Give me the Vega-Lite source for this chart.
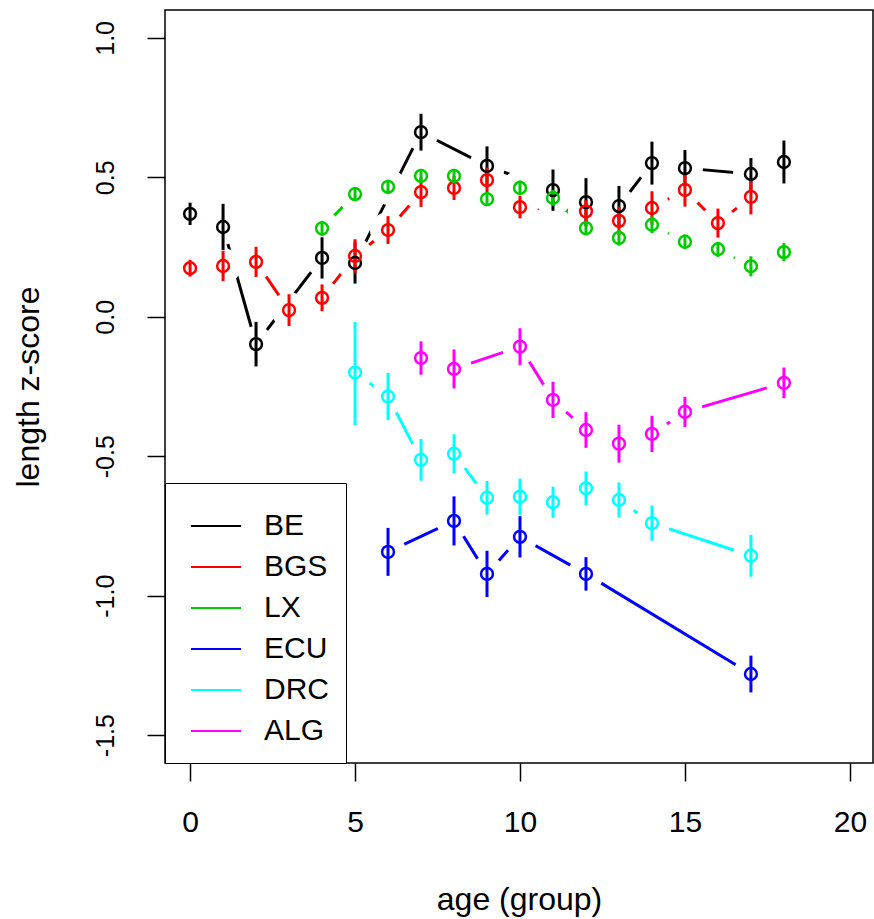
{
  "$schema": "https://vega.github.io/schema/vega-lite/v6.json",
  "width": 708,
  "height": 753,
  "autosize": {"type": "none"},
  "padding": {"left": 165, "top": 10, "right": 1, "bottom": 156},
  "background": "white",
  "config": {
    "view": {"stroke": "black", "strokeWidth": 1.5},
    "axis": {"grid": false, "domain": false, "tickColor": "black", "tickWidth": 1.5, "tickSize": 18, "labelColor": "black", "titleColor": "black", "labelFont": "Liberation Sans", "titleFont": "Liberation Sans", "titleFontWeight": "normal", "labelFlush": false, "labelOverlap": false}
  },
  "data": {
    "values": [
      {"s": "BE", "a": 0, "z": 0.369, "lo": 0.329, "hi": 0.409},
      {"s": "BE", "a": 1, "z": 0.322, "lo": 0.239, "hi": 0.405},
      {"s": "BE", "a": 2, "z": -0.098, "lo": -0.178, "hi": -0.018},
      {"s": "BE", "a": 4, "z": 0.211, "lo": 0.137, "hi": 0.285},
      {"s": "BE", "a": 5, "z": 0.193, "lo": 0.119, "hi": 0.267},
      {"s": "BE", "a": 7, "z": 0.662, "lo": 0.596, "hi": 0.728},
      {"s": "BE", "a": 9, "z": 0.541, "lo": 0.471, "hi": 0.611},
      {"s": "BE", "a": 11, "z": 0.454, "lo": 0.380, "hi": 0.528},
      {"s": "BE", "a": 12, "z": 0.411, "lo": 0.325, "hi": 0.497},
      {"s": "BE", "a": 13, "z": 0.397, "lo": 0.325, "hi": 0.469},
      {"s": "BE", "a": 14, "z": 0.551, "lo": 0.474, "hi": 0.628},
      {"s": "BE", "a": 15, "z": 0.533, "lo": 0.468, "hi": 0.598},
      {"s": "BE", "a": 17, "z": 0.512, "lo": 0.455, "hi": 0.569},
      {"s": "BE", "a": 18, "z": 0.555, "lo": 0.478, "hi": 0.632},
      {"s": "BGS", "a": 0, "z": 0.174, "lo": 0.144, "hi": 0.204},
      {"s": "BGS", "a": 1, "z": 0.182, "lo": 0.128, "hi": 0.236},
      {"s": "BGS", "a": 2, "z": 0.197, "lo": 0.143, "hi": 0.251},
      {"s": "BGS", "a": 3, "z": 0.024, "lo": -0.033, "hi": 0.081},
      {"s": "BGS", "a": 4, "z": 0.068, "lo": 0.020, "hi": 0.116},
      {"s": "BGS", "a": 5, "z": 0.218, "lo": 0.158, "hi": 0.278},
      {"s": "BGS", "a": 6, "z": 0.311, "lo": 0.261, "hi": 0.361},
      {"s": "BGS", "a": 7, "z": 0.447, "lo": 0.394, "hi": 0.500},
      {"s": "BGS", "a": 8, "z": 0.462, "lo": 0.419, "hi": 0.505},
      {"s": "BGS", "a": 9, "z": 0.490, "lo": 0.445, "hi": 0.535},
      {"s": "BGS", "a": 10, "z": 0.393, "lo": 0.353, "hi": 0.433},
      {"s": "BGS", "a": 12, "z": 0.378, "lo": 0.338, "hi": 0.418},
      {"s": "BGS", "a": 13, "z": 0.344, "lo": 0.294, "hi": 0.394},
      {"s": "BGS", "a": 14, "z": 0.390, "lo": 0.330, "hi": 0.450},
      {"s": "BGS", "a": 15, "z": 0.455, "lo": 0.395, "hi": 0.515},
      {"s": "BGS", "a": 16, "z": 0.336, "lo": 0.284, "hi": 0.388},
      {"s": "BGS", "a": 17, "z": 0.430, "lo": 0.367, "hi": 0.493},
      {"s": "LX", "a": 4, "z": 0.317, "lo": 0.290, "hi": 0.344},
      {"s": "LX", "a": 5, "z": 0.440, "lo": 0.415, "hi": 0.465},
      {"s": "LX", "a": 6, "z": 0.466, "lo": 0.441, "hi": 0.491},
      {"s": "LX", "a": 7, "z": 0.505, "lo": 0.480, "hi": 0.530},
      {"s": "LX", "a": 8, "z": 0.505, "lo": 0.480, "hi": 0.530},
      {"s": "LX", "a": 9, "z": 0.422, "lo": 0.397, "hi": 0.447},
      {"s": "LX", "a": 10, "z": 0.462, "lo": 0.435, "hi": 0.489},
      {"s": "LX", "a": 11, "z": 0.426, "lo": 0.398, "hi": 0.454},
      {"s": "LX", "a": 12, "z": 0.318, "lo": 0.292, "hi": 0.344},
      {"s": "LX", "a": 13, "z": 0.283, "lo": 0.255, "hi": 0.311},
      {"s": "LX", "a": 14, "z": 0.330, "lo": 0.300, "hi": 0.360},
      {"s": "LX", "a": 15, "z": 0.269, "lo": 0.243, "hi": 0.295},
      {"s": "LX", "a": 16, "z": 0.242, "lo": 0.215, "hi": 0.269},
      {"s": "LX", "a": 17, "z": 0.181, "lo": 0.145, "hi": 0.217},
      {"s": "LX", "a": 18, "z": 0.232, "lo": 0.200, "hi": 0.264},
      {"s": "ECU", "a": 6, "z": -0.843, "lo": -0.929, "hi": -0.757},
      {"s": "ECU", "a": 8, "z": -0.732, "lo": -0.820, "hi": -0.644},
      {"s": "ECU", "a": 9, "z": -0.922, "lo": -1.005, "hi": -0.839},
      {"s": "ECU", "a": 10, "z": -0.789, "lo": -0.863, "hi": -0.715},
      {"s": "ECU", "a": 12, "z": -0.922, "lo": -0.982, "hi": -0.862},
      {"s": "ECU", "a": 17, "z": -1.281, "lo": -1.347, "hi": -1.215},
      {"s": "DRC", "a": 5, "z": -0.200, "lo": -0.388, "hi": -0.019},
      {"s": "DRC", "a": 6, "z": -0.286, "lo": -0.371, "hi": -0.201},
      {"s": "DRC", "a": 7, "z": -0.513, "lo": -0.588, "hi": -0.438},
      {"s": "DRC", "a": 8, "z": -0.491, "lo": -0.561, "hi": -0.421},
      {"s": "DRC", "a": 9, "z": -0.649, "lo": -0.709, "hi": -0.589},
      {"s": "DRC", "a": 10, "z": -0.645, "lo": -0.710, "hi": -0.580},
      {"s": "DRC", "a": 11, "z": -0.665, "lo": -0.721, "hi": -0.609},
      {"s": "DRC", "a": 12, "z": -0.615, "lo": -0.675, "hi": -0.555},
      {"s": "DRC", "a": 13, "z": -0.657, "lo": -0.720, "hi": -0.594},
      {"s": "DRC", "a": 14, "z": -0.740, "lo": -0.803, "hi": -0.677},
      {"s": "DRC", "a": 17, "z": -0.857, "lo": -0.932, "hi": -0.782},
      {"s": "ALG", "a": 7, "z": -0.148, "lo": -0.208, "hi": -0.088},
      {"s": "ALG", "a": 8, "z": -0.187, "lo": -0.257, "hi": -0.117},
      {"s": "ALG", "a": 10, "z": -0.107, "lo": -0.173, "hi": -0.041},
      {"s": "ALG", "a": 11, "z": -0.298, "lo": -0.363, "hi": -0.233},
      {"s": "ALG", "a": 12, "z": -0.406, "lo": -0.470, "hi": -0.342},
      {"s": "ALG", "a": 13, "z": -0.455, "lo": -0.523, "hi": -0.387},
      {"s": "ALG", "a": 14, "z": -0.420, "lo": -0.485, "hi": -0.355},
      {"s": "ALG", "a": 15, "z": -0.341, "lo": -0.395, "hi": -0.287},
      {"s": "ALG", "a": 18, "z": -0.237, "lo": -0.292, "hi": -0.182}
    ]
  },
  "encoding": {
    "x": {
      "field": "a", "type": "quantitative", "title": "age (group)",
      "scale": {"domain": [-0.76, 20.7], "nice": false, "zero": false},
      "axis": {"values": [0, 5, 10, 15, 20], "labelFontSize": 30, "labelBaseline": "alphabetic", "labelPadding": 50, "titleFontSize": 32, "titleBaseline": "alphabetic", "titleY": 146}
    },
    "y": {
      "field": "z", "type": "quantitative", "title": "length z-score",
      "scale": {"domain": [-1.6, 1.1], "nice": false, "zero": false},
      "axis": {"values": [-1.5, -1, -0.5, 0, 0.5, 1], "labelExpr": "replace(format(datum.value, '.1f'), '−', '-')", "labelAngle": -90, "labelAlign": "center", "labelBaseline": "alphabetic", "labelPadding": 34, "labelFontSize": 25, "titleFontSize": 32, "titleBaseline": "alphabetic", "titleX": -127}
    }
  },
  "layer": [
    {
      "mark": {"type": "line", "strokeWidth": 3, "clip": true},
      "encoding": {
        "order": {"field": "a", "type": "quantitative"},
        "color": {
          "field": "s", "type": "nominal",
          "scale": {"domain": ["BE", "BGS", "LX", "ECU", "DRC", "ALG"], "range": ["#000000", "#FF0000", "#00CD00", "#0000FF", "#00FFFF", "#FF00FF"]},
          "legend": {"title": null, "orient": "bottom-left", "offset": 0, "symbolType": "stroke", "symbolSize": 2500, "symbolStrokeWidth": 2, "labelFontSize": 30, "labelFont": "Liberation Sans", "labelColor": "black", "labelOffset": 22, "padding": 17, "symbolOffset": 8, "rowPadding": -4, "strokeColor": "black", "fillColor": "white", "labelLimit": 0}
        }
      }
    },
    {
      "mark": {"type": "point", "shape": "circle", "filled": true, "color": "white", "size": 1296, "opacity": 1, "strokeWidth": 0, "clip": true}
    },
    {
      "mark": {"type": "rule", "strokeWidth": 3, "clip": true},
      "encoding": {
        "y": {"field": "lo", "type": "quantitative", "title": "length z-score", "scale": {"domain": [-1.6, 1.1], "nice": false, "zero": false}},
        "y2": {"field": "hi"},
        "color": {"field": "s", "type": "nominal"}
      }
    },
    {
      "mark": {"type": "point", "shape": "circle", "filled": false, "size": 140, "strokeWidth": 2.5, "opacity": 1, "clip": true},
      "encoding": {
        "color": {"field": "s", "type": "nominal"}
      }
    }
  ]
}
